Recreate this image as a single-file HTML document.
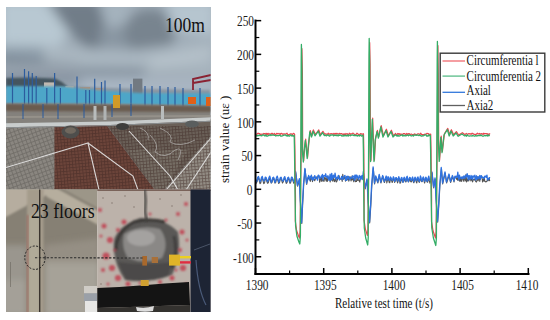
<!DOCTYPE html>
<html><head><meta charset="utf-8"><style>
html,body{margin:0;padding:0;background:#fff;width:550px;height:320px;overflow:hidden}
svg{display:block}
text{font-family:"Liberation Serif",serif}
</style></head><body>
<svg width="550" height="320" viewBox="0 0 550 320">
<rect width="550" height="320" fill="#fff"/>
<defs>
<filter id="b1" x="-20%" y="-20%" width="140%" height="140%"><feGaussianBlur stdDeviation="1"/></filter>
<filter id="b3" x="-30%" y="-30%" width="160%" height="160%"><feGaussianBlur stdDeviation="3"/></filter>
<filter id="b6" x="-50%" y="-50%" width="200%" height="200%"><feGaussianBlur stdDeviation="6"/></filter>
<filter id="b10" x="-50%" y="-50%" width="200%" height="200%"><feGaussianBlur stdDeviation="10"/></filter>
<clipPath id="cTop"><rect x="6" y="7" width="204.6" height="182.5"/></clipPath>
<clipPath id="cBL"><rect x="6" y="189.5" width="91.3" height="122.5"/></clipPath>
<clipPath id="cBR"><rect x="97.3" y="189.5" width="113.3" height="122.5"/></clipPath>
<pattern id="meshR" width="3.2" height="3.2" patternUnits="userSpaceOnUse" patternTransform="rotate(-5)">
  <path d="M0 0.5H3.2M0.5 0V3.2" stroke="#3a2420" stroke-width="0.8" opacity="0.5"/>
</pattern>
<pattern id="meshG" width="4" height="4" patternUnits="userSpaceOnUse" patternTransform="rotate(-20)">
  <path d="M0 0.5H4M0.5 0V4" stroke="#55524c" stroke-width="0.8" opacity="0.5"/>
</pattern>
</defs>

<!-- ============ TOP PHOTO ============ -->
<g clip-path="url(#cTop)">
  <rect x="6" y="7" width="205" height="183" fill="#9aa8b3"/>
  <!-- sky clouds -->
  <rect x="6" y="7" width="205" height="90" fill="#9eabb6"/>
  <g filter="url(#b6)">
    <path d="M0 0 L52 0 L70 30 L60 46 L0 46Z" fill="#b8c8d2"/>
    <path d="M46 0 L98 0 L108 28 L104 50 L86 48 L66 28Z" fill="#717d88"/>
    <path d="M98 0 L130 0 L126 28 L108 34Z" fill="#a4b2bd"/>
    <path d="M100 30 L135 22 L140 52 L100 52Z" fill="#8996a2"/>
    <ellipse cx="150" cy="32" rx="26" ry="23" fill="#78848f"/>
    <path d="M166 0 L215 0 L215 36 L172 30Z" fill="#b6c5cf"/>
    <path d="M40 46 Q90 48 136 50 L136 68 Q90 68 40 66Z" fill="#a9b6c0"/>
    <path d="M0 46 L44 48 L44 66 L0 66Z" fill="#8c9ba8"/>
    <path d="M136 50 L215 40 L215 70 L136 70Z" fill="#aab7c1"/>
    <path d="M150 60 Q180 56 210 50 L212 55 Q180 63 152 66Z" fill="#bcc7cf"/>
    <path d="M0 58 Q40 62 80 66 L80 69 Q40 66 0 64Z" fill="#6e7a88"/>
    <path d="M0 65 Q40 67 80 70 L80 74 Q40 73 0 72Z" fill="#aab6c0"/>
    <path d="M0 72 L80 74 L80 82 L0 82Z" fill="#7a8696"/>
    <path d="M80 68 L145 68 L145 76 L80 76Z" fill="#7e8b98"/>
    <path d="M80 76 L215 78 L215 96 L80 96Z" fill="#a9b6c3"/>
    <path d="M145 70 L215 70 L215 78 L145 78Z" fill="#a2aeb8"/>
  </g>
  <!-- hills -->
  <path d="M6 78 L30 77.5 L55 78.5 L62 82 L68 87 L6 88Z" fill="#44555e" filter="url(#b1)"/>
  <path d="M70 86 L110 88 L150 89 L210 90 L210 96 L70 96Z" fill="#8a96a2" filter="url(#b1)"/>
  <!-- buildings -->
  <rect x="44" y="82.4" width="10" height="7.4" fill="#c0b8b0"/>
  <rect x="65.4" y="86" width="8.3" height="4.7" fill="#b0a8a0"/>
  <rect x="80" y="87" width="10" height="5" fill="#a89080"/>
  <rect x="95" y="88" width="8" height="5" fill="#a89080"/>
  <rect x="133" y="78.6" width="9.4" height="17" fill="#727a82"/>
  <!-- fence -->
  <path d="M6 86 L62 86.5 L100 90.5 L140 93 L211 93.5 L211 106 L110 104.5 L6 103.8Z" fill="#4ea6c8" filter="url(#b1)"/>
  <g stroke="#2c5c9e" stroke-width="1.2"><line x1="12.5" y1="73" x2="12.5" y2="106"/><line x1="24.5" y1="69" x2="24.5" y2="110"/><line x1="28.6" y1="71.3" x2="28.6" y2="106"/><line x1="32.3" y1="73" x2="32.3" y2="106"/><line x1="36.2" y1="76" x2="36.2" y2="106"/><line x1="54.6" y1="73" x2="54.6" y2="106"/><line x1="77" y1="76.5" x2="77" y2="106"/><line x1="94.7" y1="78.7" x2="94.7" y2="106"/><line x1="101.5" y1="82" x2="101.5" y2="106"/><line x1="105" y1="80.5" x2="105" y2="106"/><line x1="46.8" y1="88" x2="46.8" y2="110"/><line x1="60.4" y1="88" x2="60.4" y2="112"/><line x1="85.8" y1="90" x2="85.8" y2="110"/><line x1="89.5" y1="90" x2="89.5" y2="110"/><line x1="120" y1="84" x2="120" y2="107"/><line x1="131" y1="84" x2="131" y2="106"/><line x1="145" y1="86" x2="145" y2="107"/><line x1="152" y1="86" x2="152" y2="107"/><line x1="160" y1="86" x2="160" y2="107"/><line x1="168" y1="87" x2="168" y2="107"/><line x1="175" y1="87" x2="175" y2="107"/><line x1="183" y1="88" x2="183" y2="107"/><line x1="200" y1="88" x2="200" y2="107"/></g>
  <!-- deck band -->
  <path d="M6 103.5 L110 104 L211 106 L211 121 L110 123 L6 125Z" fill="#84817c" filter="url(#b1)"/>
  <path d="M6 104 L211 106 L211 112 L6 111Z" fill="#6a5c50" filter="url(#b1)"/>
  <path d="M6 116 L211 115 L211 117 L6 118Z" fill="#9c9890" opacity="0.7"/>
  <g stroke="#2a5a9c" stroke-width="1.2" opacity="0.85">
    <line x1="23" y1="104" x2="23" y2="119"/><line x1="43" y1="104" x2="43" y2="118"/><line x1="58" y1="104" x2="58" y2="119"/>
    <line x1="84" y1="104" x2="84" y2="118"/><line x1="112" y1="104" x2="112" y2="117"/><line x1="131" y1="104" x2="131" y2="116"/>
  </g>
  <rect x="93.5" y="106" width="3" height="14" fill="#b8bcbc"/>
  <rect x="103.5" y="106" width="3" height="14" fill="#b0b4b4"/>
  <rect x="161" y="106" width="3" height="13" fill="#b8bcbc"/>
  <rect x="113" y="95" width="7" height="13" fill="#d09a28"/>
  <rect x="188" y="97" width="8" height="7" fill="#e06018"/>
  <rect x="206" y="97" width="5" height="9" fill="#e06018"/>
  <path d="M193 90 L193 79 L211 75 M193 83 L211 80" fill="none" stroke="#8a2232" stroke-width="1.8"/>
  <!-- lower meshes -->
  <path d="M6 125 L55 124 L55 190 L6 190Z" fill="#8a8680"/>
  <rect x="6" y="125" width="49" height="65" fill="url(#meshG)"/>
  <path d="M54.5 124 L105 123 L155 190 L54.5 190Z" fill="#6c443a"/>
  <path d="M105 123 L211 119 L211 136 L164 190 L155 190Z" fill="#6a6058"/>
  <path d="M128 150 L188 150 L164 190 L155 190Z" fill="#787068" opacity="0.8"/>
  <path d="M211 136 L211 190 L164 190Z" fill="#928c84"/>
  <rect x="54.5" y="126" width="157" height="64" fill="url(#meshR)"/>
  <!-- pipe -->
  <path d="M6 123.3 L110 121.6 L211 117.2 L211 120.8 L110 125 L6 127.2Z" fill="#c8cccc"/>
  <path d="M6 127.2 L110 125 L211 120.8 L211 121.8 L110 126 L6 128.2Z" fill="#8a8e90"/>
  <!-- tires -->
  <ellipse cx="70.5" cy="132" rx="9" ry="6.5" fill="#4e4e4c"/>
  <ellipse cx="70.5" cy="130.5" rx="5.5" ry="3.2" fill="#70685e"/>
  <ellipse cx="122.5" cy="126.5" rx="6.5" ry="3.5" fill="#3e3e3c"/>
  <ellipse cx="192" cy="124" rx="7" ry="3.5" fill="#5a5e5e"/>
  <!-- white lines -->
  <g stroke="#e6e6e6" stroke-width="1.1" fill="none" opacity="0.9">
    <path d="M6 167.5 L88 143 L99 190"/>
    <path d="M88 143 L133 176 L138 190"/>
    <path d="M129 131 L170 176 L178 190"/>
    <path d="M211 138 L166 190"/>
    <path d="M211 152 L186 190"/>
  </g>
  <g stroke="#c8c8c8" stroke-width="0.8" fill="none" opacity="0.7">
    <path d="M150 135 Q160 145 155 152 Q165 160 175 150 Q185 145 178 160"/>
    <path d="M160 128 Q175 135 170 142 Q180 148 195 140"/>
    <path d="M140 128 Q150 132 148 140"/>
  </g>
  <!-- 100m text -->
  <text x="165" y="32.2" font-family="'Liberation Serif',serif" font-size="20" fill="#111" transform="translate(165 0) scale(0.876 1) translate(-165 0)">100m</text>
</g>

<!-- ============ BOTTOM LEFT PHOTO ============ -->
<g clip-path="url(#cBL)">
  <rect x="6" y="189" width="92" height="124" fill="#868074"/>
  <g filter="url(#b1)">
    <path d="M0 185 L52 185 L52 192 L0 220Z" fill="#b6ad9f"/>
    <path d="M56 185 L105 185 L105 212 Z" fill="#9c9688"/>
    <path d="M44 191 L56 188 L100 212 L100 226 L47 197Z" fill="#b6ae9e"/>
  </g>
  <g filter="url(#b3)">
    <path d="M0 245 L27 245 L27 316 L0 316Z" fill="#9a968e"/>
    <path d="M44 245 L100 238 L100 262 L44 262Z" fill="#958f84"/>
    <path d="M44 262 L100 262 L100 316 L44 316Z" fill="#a6a298"/>
    <path d="M0 280 L27 280 L27 316 L0 316Z" fill="#a4a098"/>
  </g>
  <rect x="10" y="262" width="1" height="25" fill="#6a665e" opacity="0.6"/>
  <rect x="84" y="286" width="14" height="7.5" fill="#cfccc6"/>
  <rect x="84" y="293.3" width="14" height="8" fill="#9aa0a8"/>
  <rect x="85" y="301" width="12" height="12" fill="#e6e6e4"/>
  <!-- column -->
  <path d="M27 189 L43.5 189 L43.5 313 L27 313Z" fill="#a59c8c" filter="url(#b1)"/>
  <path d="M29 217 L39 210 L39 313 L29 313Z" fill="#b0aa98" filter="url(#b1)"/>
  <rect x="26.8" y="215" width="1.8" height="98" fill="#9a6a60" filter="url(#b1)"/>
  <rect x="39" y="189" width="1.4" height="124" fill="#3a342e"/>
  <!-- dashed circle and line -->
  <ellipse cx="35" cy="257.7" rx="10.2" ry="11.7" fill="none" stroke="#222" stroke-width="1" stroke-dasharray="2 1.5"/>
  <text x="31" y="218.4" font-family="'Liberation Serif',serif" font-size="20" fill="#111" transform="translate(31 0) scale(0.888 1) translate(-31 0)">23 floors</text>
</g>

<!-- ============ BOTTOM RIGHT PHOTO ============ -->
<g clip-path="url(#cBR)">
  <rect x="97" y="189" width="114" height="124" fill="#bcb2aa"/>
  <rect x="97" y="189" width="114" height="1.8" fill="#6a5048"/>
  <g filter="url(#b1)">
    <path d="M114 240 Q118 226 140 218 Q165 218 178 232 Q182 255 172 275 Q150 283 125 280 Q112 262 114 240Z" fill="#5a5856"/>
    <path d="M124 234 Q140 224 160 229 Q170 242 162 258 Q145 265 128 258 Q121 248 124 234Z" fill="#8a8886"/>
    <ellipse cx="141" cy="238" rx="14" ry="8" fill="#a4a2a0"/>
    <path d="M118 262 Q145 266 172 262 L168 276 Q150 283 126 280Z" fill="#4c4a48"/>
    <path d="M116 250 Q116 232 134 222 Q150 218 165 222" fill="none" stroke="#3a3836" stroke-width="3"/>
    <path d="M174 236 Q178 252 172 268" fill="none" stroke="#403e3c" stroke-width="3"/>
  </g>
  <g fill="#c03848" opacity="0.8" filter="url(#b1)">
    <circle cx="104" cy="226" r="2.5"/><circle cx="110" cy="240" r="3"/><circle cx="106" cy="256" r="3.5"/><circle cx="112" cy="268" r="3"/>
    <circle cx="118" cy="278" r="3"/><circle cx="124" cy="222" r="2.5"/><circle cx="118" cy="230" r="2"/><circle cx="128" cy="284" r="2.5"/>
    <circle cx="178" cy="214" r="2"/><circle cx="182" cy="232" r="2.5"/><circle cx="180" cy="250" r="2"/><circle cx="183" cy="268" r="3"/>
    <circle cx="172" cy="278" r="2.5"/><circle cx="160" cy="282" r="2"/><circle cx="100" cy="210" r="2"/><circle cx="186" cy="204" r="2"/>
    <circle cx="150" cy="214" r="1.5"/><circle cx="166" cy="220" r="1.5"/>
    <circle cx="101" cy="236" r="1.5"/><circle cx="103" cy="270" r="2"/><circle cx="108" cy="284" r="1.5"/><circle cx="115" cy="250" r="1.5"/>
    <circle cx="187" cy="240" r="1.5"/><circle cx="176" cy="270" r="1.5"/><circle cx="186" cy="284" r="1.5"/><circle cx="140" cy="283" r="1.5"/>
  </g>
  <g fill="#6a5a50" opacity="0.6">
    <circle cx="103" cy="198" r="0.8"/><circle cx="112" cy="203" r="0.8"/><circle cx="125" cy="196" r="0.8"/><circle cx="134" cy="207" r="0.8"/>
    <circle cx="160" cy="199" r="0.8"/><circle cx="172" cy="206" r="0.8"/><circle cx="181" cy="195" r="0.8"/><circle cx="101" cy="284" r="0.8"/>
  </g>
  <path d="M144.5 189 L145.5 200 L145 212 L147 222" stroke="#45433f" stroke-width="2.4" fill="none" filter="url(#b1)"/>
  <rect x="190.5" y="189" width="21" height="124" fill="#1d2434"/>
  <path d="M194 250 L210 244" stroke="#4a5468" stroke-width="1"/>
  <path d="M196 260 Q198 290 206 305" stroke="#4a5a78" stroke-width="1.2" fill="none"/>
  <!-- strap -->
  <path d="M97 288 Q120 287 140 285.5 Q165 283 189 282 L190 305 Q160 306 130 307 L97 308Z" fill="#141414"/>
  <path d="M97 308 L130 307 L190 305 L190 313 L97 313Z" fill="#34322f"/>
  <path d="M136 307 Q145 309 154 306 L153 311 Q145 312.5 137 311Z" fill="#dcdcdc"/>
  <!-- sensors and wires -->
  <rect x="142.3" y="256" width="4.7" height="9.6" fill="#a8682c"/>
  <rect x="151.7" y="257" width="6.3" height="6" fill="#a8703a"/>
  <rect x="169" y="254.6" width="11" height="11" fill="#e0b428"/>
  <rect x="180" y="256" width="11" height="2.4" fill="#ecd020"/>
  <rect x="180" y="261.2" width="11" height="2.4" fill="#e02c40"/>
  <rect x="140.7" y="280" width="8" height="6" fill="#d0a030"/>
</g>
<line x1="35" y1="257.7" x2="144" y2="258" stroke="#2a2a2a" stroke-width="1.1" stroke-dasharray="2.3 1.6"/>

<g><polyline points="255.50,180.51 256.25,183.13 257.00,181.80 257.75,179.04 258.50,177.67 259.25,180.66 260.00,183.73 260.75,182.80 261.50,178.76 262.25,177.96 263.00,180.55 263.75,183.74 264.50,182.86 265.25,179.00 266.00,178.19 266.75,181.17 267.50,183.28 268.25,182.77 269.00,179.78 269.75,177.88 270.50,180.83 271.25,183.08 272.00,182.35 272.75,179.46 273.50,177.70 274.25,180.87 275.00,183.12 275.75,182.31 276.50,179.17 277.25,179.19 278.00,180.75 278.75,183.51 279.50,182.66 280.25,179.02 281.00,177.61 281.75,180.68 282.50,182.96 283.25,181.74 284.00,179.48 284.75,177.92 285.50,180.44 286.25,183.43 287.00,182.59 287.75,179.03 288.50,178.37 289.25,180.99 290.00,183.42 290.75,182.31 291.50,179.33 292.25,178.56 293.00,180.80 293.75,183.30 294.50,182.25 295.40,180.00 295.70,172.20 297.60,186.30 299.60,179.70 300.40,201.00 301.80,223.50 302.60,206.00 303.70,185.00 305.10,169.40 306.70,184.40 307.70,179.00 308.10,179.03 308.65,176.83 309.20,178.57 309.75,177.81 310.30,181.45 310.85,178.15 311.40,179.23 311.95,178.53 312.50,181.78 313.05,176.81 313.60,178.85 314.15,179.34 314.70,180.80 315.25,179.20 315.80,177.89 316.35,176.97 316.90,177.48 317.45,176.97 318.00,176.76 318.55,176.77 319.10,176.62 319.65,182.12 320.20,177.91 320.75,177.38 321.30,181.44 321.85,176.65 322.40,180.19 322.95,181.09 323.50,179.69 324.05,181.35 324.60,177.65 325.15,177.49 325.70,179.46 326.25,181.18 326.80,177.67 327.35,181.50 327.90,178.77 328.45,177.69 329.00,176.88 329.55,177.92 330.10,182.03 330.65,179.72 331.20,179.95 331.75,176.53 332.30,180.44 332.85,181.22 333.40,176.97 333.95,179.43 334.50,181.69 335.05,180.09 335.60,178.46 336.15,181.87 336.70,181.65 337.25,180.25 337.80,178.18 338.35,176.92 338.90,175.48 339.45,177.18 340.00,178.46 340.55,179.27 341.10,178.58 341.65,178.32 342.20,181.52 342.75,174.32 343.30,179.48 343.85,177.32 344.40,178.34 344.95,176.87 345.50,181.19 346.05,179.29 346.60,176.58 347.15,178.73 347.70,179.86 348.25,176.42 348.80,181.12 349.35,178.62 349.90,176.66 350.45,177.47 351.00,180.96 351.55,179.25 352.10,175.82 352.65,179.88 353.20,177.94 353.75,181.82 354.30,178.83 354.85,177.58 355.40,181.74 355.95,181.21 356.50,181.46 357.05,177.86 357.60,180.42 358.15,179.97 358.70,179.70 359.25,181.07 359.80,182.09 360.35,177.88 360.90,177.32 361.45,176.86 362.00,178.32 362.55,177.31 363.10,180.00 363.50,172.70 365.20,189.00 367.20,180.00 368.20,201.00 369.70,223.00 370.80,206.00 371.80,186.00 373.30,168.00 374.60,184.00 375.90,177.00 377.90,183.00 379.40,175.50 380.90,183.00 382.90,176.50 384.40,182.50 386.40,177.00 386.80,182.87 387.40,180.66 388.00,178.02 388.60,179.91 389.20,182.42 389.80,182.72 390.40,179.29 391.00,178.75 391.60,180.57 392.20,182.55 392.80,180.80 393.40,178.27 394.00,179.49 394.60,182.38 395.20,181.33 395.80,179.15 396.40,178.08 397.00,180.98 397.60,182.90 398.20,180.82 398.80,179.04 399.40,179.22 400.00,183.31 400.60,182.62 401.20,179.26 401.80,179.54 402.40,181.21 403.00,182.19 403.60,181.23 404.20,178.45 404.80,179.82 405.40,181.72 406.00,181.91 406.60,178.93 407.20,178.05 407.80,180.50 408.40,181.94 409.00,181.20 409.60,178.10 410.20,179.73 410.80,181.78 411.40,181.89 412.00,179.56 412.60,179.60 413.20,181.42 413.80,182.69 414.40,181.24 415.00,178.84 415.60,179.15 416.20,181.73 416.80,182.95 417.40,179.58 418.00,178.88 418.60,180.97 419.20,182.39 419.80,181.20 420.40,178.45 421.00,179.27 421.60,181.68 422.20,181.70 422.80,179.04 423.40,178.05 424.00,180.75 424.60,183.03 425.20,180.51 425.80,178.77 426.40,179.71 427.00,181.56 427.60,182.27 428.20,179.65 428.80,177.69 429.40,181.37 430.00,183.24 430.60,180.87 431.20,179.06 431.60,180.00 432.10,172.90 433.70,187.90 435.20,179.00 436.30,201.00 437.70,222.30 438.80,206.00 439.90,186.00 441.45,168.50 442.70,184.00 445.20,173.00 446.60,183.00 449.20,175.00 450.60,182.50 452.60,176.50 454.10,182.00 454.50,177.94 455.05,176.85 455.60,176.91 456.15,177.92 456.70,179.42 457.25,177.31 457.80,180.39 458.35,179.44 458.90,176.74 459.45,181.08 460.00,177.18 460.55,181.27 461.10,177.23 461.65,181.49 462.20,177.99 462.75,177.13 463.30,179.95 463.85,181.42 464.40,178.09 464.95,177.28 465.50,180.89 466.05,174.26 466.60,182.01 467.15,178.91 467.70,180.86 468.25,179.36 468.80,180.97 469.35,179.01 469.90,178.70 470.45,179.32 471.00,180.96 471.55,178.58 472.10,179.37 472.65,181.85 473.20,179.65 473.75,179.62 474.30,179.94 474.85,178.82 475.40,180.88 475.95,181.66 476.50,181.95 477.05,179.79 477.60,176.70 478.15,180.81 478.70,177.14 479.25,178.17 479.80,181.46 480.35,176.76 480.90,177.78 481.45,177.30 482.00,177.08 482.55,182.03 483.10,179.48 483.65,180.99 484.20,177.03 484.75,181.43 485.30,181.43 485.85,182.01 486.40,181.44 486.95,181.17 487.50,179.49 488.05,180.65 488.60,179.83 489.15,177.63 489.70,181.10" fill="none" stroke="#555" stroke-width="1.1" stroke-linejoin="round"/><polyline points="255.50,179.35 256.25,181.81 257.00,180.76 257.75,177.46 258.50,176.51 259.25,179.10 260.00,181.43 260.75,180.72 261.50,177.49 262.25,176.35 263.00,179.29 263.75,181.00 264.50,180.42 265.25,177.25 266.00,177.38 266.75,179.54 267.50,181.66 268.25,180.61 269.00,177.52 269.75,176.10 270.50,178.97 271.25,182.52 272.00,181.12 272.75,177.80 273.50,177.14 274.25,178.96 275.00,182.47 275.75,180.56 276.50,177.61 277.25,176.07 278.00,178.87 278.75,182.32 279.50,180.72 280.25,177.83 281.00,177.13 281.75,179.30 282.50,181.04 283.25,180.96 284.00,177.86 284.75,176.63 285.50,179.45 286.25,181.89 287.00,181.00 287.75,177.76 288.50,177.22 289.25,179.27 290.00,182.10 290.75,180.44 291.50,177.14 292.25,177.46 293.00,179.19 293.75,181.70 294.50,180.39 295.20,179.00 295.50,171.20 297.40,185.30 299.40,178.70 300.20,200.00 301.60,222.50 302.40,205.00 303.50,184.00 304.90,168.40 306.50,183.40 307.50,178.00 308.10,177.35 308.65,175.39 309.20,180.04 309.75,179.18 310.30,176.41 310.85,177.94 311.40,175.16 311.95,179.69 312.50,179.94 313.05,177.39 313.60,179.76 314.15,177.99 314.70,175.59 315.25,176.86 315.80,178.61 316.35,178.27 316.90,177.27 317.45,180.07 318.00,175.53 318.55,175.14 319.10,175.79 319.65,178.67 320.20,178.02 320.75,177.77 321.30,175.93 321.85,177.12 322.40,174.30 322.95,179.89 323.50,176.27 324.05,175.36 324.60,175.98 325.15,176.42 325.70,173.78 326.25,176.73 326.80,176.65 327.35,178.08 327.90,175.55 328.45,177.85 329.00,180.42 329.55,178.92 330.10,174.10 330.65,180.47 331.20,176.78 331.75,173.42 332.30,179.56 332.85,177.51 333.40,175.11 333.95,177.48 334.50,177.18 335.05,173.18 335.60,176.38 336.15,179.58 336.70,177.55 337.25,177.16 337.80,178.54 338.35,175.48 338.90,177.75 339.45,179.99 340.00,178.51 340.55,178.74 341.10,178.91 341.65,176.37 342.20,177.16 342.75,179.62 343.30,177.76 343.85,176.75 344.40,175.81 344.95,175.45 345.50,180.28 346.05,177.59 346.60,180.35 347.15,176.15 347.70,178.59 348.25,176.46 348.80,176.80 349.35,179.73 349.90,178.81 350.45,178.35 351.00,177.12 351.55,177.62 352.10,178.46 352.65,175.98 353.20,176.53 353.75,176.35 354.30,180.23 354.85,175.11 355.40,175.22 355.95,178.92 356.50,175.04 357.05,175.53 357.60,177.54 358.15,177.07 358.70,179.43 359.25,175.50 359.80,177.26 360.35,176.26 360.90,179.72 361.45,176.49 362.00,175.45 362.55,179.18 362.90,179.00 363.30,171.70 365.00,188.00 367.00,179.00 368.00,200.00 369.50,222.00 370.60,205.00 371.60,185.00 373.10,167.00 374.40,183.00 375.70,176.00 377.70,182.00 379.20,174.50 380.70,182.00 382.70,175.50 384.20,181.50 386.20,176.00 386.80,180.26 387.40,179.42 388.00,176.68 388.60,177.64 389.20,180.32 389.80,180.49 390.40,177.02 391.00,177.63 391.60,179.26 392.20,180.39 392.80,179.16 393.40,176.77 394.00,177.86 394.60,181.36 395.20,180.68 395.80,177.62 396.40,177.93 397.00,178.94 397.60,180.99 398.20,178.95 398.80,176.56 399.40,178.61 400.00,181.56 400.60,180.53 401.20,177.95 401.80,177.34 402.40,179.57 403.00,182.34 403.60,178.82 404.20,177.23 404.80,178.19 405.40,180.61 406.00,181.14 406.60,177.16 407.20,176.30 407.80,179.85 408.40,181.67 409.00,179.08 409.60,177.43 410.20,177.65 410.80,179.82 411.40,180.59 412.00,178.37 412.60,177.01 413.20,179.69 413.80,181.84 414.40,178.93 415.00,177.15 415.60,178.07 416.20,180.71 416.80,180.40 417.40,177.57 418.00,176.88 418.60,179.66 419.20,181.64 419.80,179.53 420.40,176.01 421.00,177.59 421.60,181.06 422.20,181.19 422.80,177.78 423.40,176.95 424.00,179.06 424.60,181.32 425.20,179.22 425.80,177.19 426.40,178.13 427.00,181.48 427.60,180.21 428.20,177.84 428.80,176.05 429.40,180.03 430.00,180.33 430.60,178.93 431.20,176.15 431.40,179.00 431.90,171.90 433.50,186.90 435.00,178.00 436.10,200.00 437.50,221.30 438.60,205.00 439.70,185.00 441.25,167.50 442.50,183.00 445.00,172.00 446.40,182.00 449.00,174.00 450.40,181.50 452.40,175.50 453.90,181.00 454.50,178.82 455.05,176.22 455.60,177.79 456.15,176.22 456.70,176.88 457.25,177.06 457.80,172.05 458.35,177.32 458.90,179.93 459.45,175.12 460.00,178.33 460.55,177.80 461.10,177.09 461.65,178.56 462.20,176.94 462.75,178.56 463.30,177.88 463.85,175.81 464.40,177.55 464.95,178.29 465.50,175.49 466.05,175.92 466.60,176.83 467.15,173.74 467.70,175.85 468.25,179.75 468.80,175.63 469.35,175.65 469.90,179.26 470.45,178.92 471.00,175.48 471.55,178.36 472.10,176.14 472.65,179.58 473.20,175.96 473.75,176.78 474.30,177.00 474.85,175.19 475.40,179.99 475.95,178.25 476.50,175.78 477.05,179.35 477.60,177.97 478.15,176.91 478.70,178.67 479.25,176.77 479.80,175.51 480.35,179.44 480.90,175.84 481.45,175.63 482.00,177.48 482.55,177.10 483.10,177.38 483.65,178.52 484.20,178.12 484.75,176.11 485.30,176.71 485.85,176.04 486.40,177.38 486.95,175.18 487.50,179.86 488.05,178.74 488.60,178.64 489.15,179.12 489.70,177.10" fill="none" stroke="#2f72e0" stroke-width="1.3" stroke-linejoin="round"/><polyline points="255.50,133.96 256.20,134.25 256.90,134.27 257.60,133.43 258.30,133.22 259.00,133.80 259.70,133.64 260.40,134.50 261.10,134.30 261.80,134.16 262.50,134.09 263.20,134.26 263.90,133.43 264.60,133.90 265.30,133.46 266.00,134.65 266.70,133.29 267.40,134.51 268.10,133.32 268.80,134.30 269.50,133.74 270.20,133.85 270.90,134.55 271.60,133.23 272.30,133.30 273.00,134.66 273.70,134.01 274.40,133.35 275.10,134.78 275.80,134.71 276.50,133.38 277.20,133.88 277.90,133.42 278.60,133.70 279.30,134.19 280.00,133.46 280.70,134.31 281.40,133.28 282.10,133.47 282.80,134.51 283.50,133.84 284.20,133.87 284.90,134.15 285.60,133.96 286.30,133.82 287.00,133.25 287.70,134.36 288.40,134.75 289.10,134.76 289.80,134.26 290.50,133.77 291.20,133.78 291.90,134.30 292.60,134.28 293.30,133.38 294.00,133.58 294.60,134.20 294.90,148.70 295.50,198.70 295.30,221.04 296.60,230.49 298.60,236.16 299.50,238.05 300.10,230.49 301.20,148.70 301.70,64.00 301.90,48.50 302.40,74.00 302.70,148.70 303.70,160.70 304.60,148.70 305.70,139.20 307.60,157.20 308.80,143.70 310.20,130.50 311.90,135.70 313.40,129.90 315.40,134.50 318.80,129.90 320.40,134.90 322.90,131.30 324.80,134.30 325.50,133.78 326.20,134.02 326.90,134.50 327.60,134.00 328.30,133.25 329.00,134.52 329.70,133.89 330.40,134.03 331.10,133.56 331.80,133.88 332.50,133.82 333.20,134.44 333.90,133.36 334.60,134.08 335.30,133.48 336.00,134.31 336.70,133.26 337.40,133.64 338.10,133.75 338.80,134.22 339.50,133.28 340.20,133.93 340.90,133.53 341.60,133.65 342.30,133.96 343.00,134.73 343.70,133.97 344.40,134.73 345.10,133.47 345.80,134.68 346.50,133.78 347.20,133.50 347.90,134.40 348.60,134.66 349.30,133.21 350.00,133.63 350.70,134.43 351.40,133.75 352.10,133.59 352.80,133.21 353.50,133.26 354.20,134.19 354.90,134.77 355.60,134.80 356.30,134.01 357.00,133.24 357.70,133.72 358.40,134.46 359.10,134.53 359.80,134.22 360.50,133.57 361.20,134.04 361.90,133.96 362.60,134.20 363.30,133.62 363.50,134.20 363.80,148.70 364.20,198.70 364.00,219.97 365.40,229.10 367.40,235.50 367.90,229.10 369.00,148.70 369.50,59.00 369.70,42.50 370.10,64.00 370.40,138.70 371.00,160.20 371.80,138.70 372.70,118.20 373.40,138.70 374.40,160.20 375.60,138.70 377.40,130.40 378.80,136.70 381.20,125.70 383.40,135.70 386.40,129.20 388.40,135.70 391.40,130.20 393.40,135.70 395.60,133.50 396.30,134.71 397.00,134.63 397.70,133.46 398.40,133.67 399.10,134.60 399.80,133.65 400.50,134.71 401.20,134.02 401.90,134.31 402.60,134.33 403.30,133.54 404.00,133.66 404.70,133.61 405.40,134.29 406.10,134.31 406.80,133.41 407.50,134.62 408.20,133.87 408.90,133.59 409.60,133.90 410.30,134.77 411.00,134.10 411.70,134.20 412.40,134.67 413.10,134.74 413.80,134.42 414.50,133.87 415.20,134.14 415.90,134.64 416.60,134.46 417.30,134.13 418.00,133.76 418.70,133.79 419.40,134.38 420.10,134.10 420.80,133.23 421.50,134.34 422.20,134.65 422.90,134.48 423.60,134.64 424.30,134.66 425.00,134.06 425.70,134.46 426.40,133.81 427.10,133.36 427.80,133.77 428.50,133.70 429.20,134.69 429.90,134.30 430.60,134.07 430.70,134.20 431.00,148.70 431.60,198.70 431.50,221.66 433.10,230.98 435.50,237.97 436.10,230.98 437.20,148.70 437.70,64.00 437.90,45.50 438.30,74.00 438.70,138.70 439.60,160.10 441.20,136.10 442.40,151.40 444.40,133.70 447.80,128.40 449.60,134.70 451.40,129.70 453.60,134.70 456.40,131.70 458.60,135.00 462.40,132.70 464.80,134.50 465.50,134.20 466.20,133.40 466.90,134.05 467.60,134.32 468.30,133.83 469.00,133.59 469.70,133.85 470.40,133.72 471.10,134.30 471.80,133.43 472.50,133.34 473.20,133.70 473.90,134.31 474.60,134.42 475.30,134.26 476.00,134.70 476.70,133.78 477.40,133.25 478.10,133.98 478.80,133.91 479.50,133.49 480.20,134.27 480.90,133.75 481.60,133.58 482.30,133.72 483.00,134.71 483.70,133.21 484.40,133.78 485.10,133.65 485.80,133.52 486.50,133.89 487.20,133.55 487.90,134.67 488.60,134.00 489.30,134.32 490.00,133.46" fill="none" stroke="#eb4650" stroke-width="1.2" stroke-linejoin="round"/><polyline points="255.50,135.43 256.20,135.58 256.90,136.09 257.60,135.45 258.30,135.51 259.00,135.62 259.70,135.06 260.40,135.52 261.10,135.68 261.80,135.91 262.50,134.93 263.20,135.22 263.90,134.93 264.60,135.93 265.30,135.77 266.00,134.86 266.70,136.18 267.40,136.15 268.10,135.72 268.80,135.66 269.50,135.02 270.20,134.82 270.90,135.54 271.60,134.88 272.30,135.07 273.00,135.14 273.70,134.84 274.40,135.45 275.10,135.42 275.80,135.98 276.50,135.53 277.20,135.70 277.90,135.50 278.60,135.73 279.30,135.44 280.00,135.19 280.70,136.20 281.40,136.19 282.10,135.98 282.80,135.79 283.50,135.24 284.20,135.12 284.90,135.20 285.60,134.90 286.30,135.87 287.00,135.36 287.70,135.99 288.40,135.34 289.10,136.14 289.80,135.99 290.50,134.80 291.20,135.09 291.90,136.07 292.60,135.46 293.30,136.17 294.00,135.36 294.20,135.50 294.50,150.00 295.10,200.00 295.60,226.00 296.90,236.00 298.90,242.00 299.80,244.00 300.40,236.00 300.80,150.00 301.20,60.00 301.40,44.50 301.90,70.00 302.30,150.00 303.30,162.00 304.20,150.00 305.30,140.50 307.20,158.50 308.40,145.00 309.80,131.80 311.50,137.00 313.00,131.20 315.00,135.80 318.40,131.20 320.00,136.20 322.50,132.60 324.40,135.60 325.10,134.90 325.80,135.68 326.50,135.89 327.20,135.18 327.90,134.92 328.60,135.27 329.30,136.15 330.00,135.86 330.70,134.97 331.40,135.14 332.10,134.94 332.80,134.88 333.50,135.92 334.20,135.05 334.90,135.58 335.60,135.43 336.30,135.07 337.00,135.82 337.70,134.98 338.40,135.70 339.10,134.96 339.80,135.39 340.50,135.10 341.20,135.18 341.90,136.16 342.60,135.92 343.30,135.23 344.00,136.04 344.70,135.09 345.40,135.35 346.10,136.00 346.80,135.70 347.50,134.94 348.20,136.19 348.90,135.10 349.60,135.16 350.30,135.88 351.00,135.26 351.70,135.21 352.40,134.90 353.10,134.93 353.80,135.62 354.50,135.14 355.20,135.64 355.90,135.32 356.60,135.43 357.30,136.14 358.00,135.48 358.70,135.60 359.40,136.01 360.10,135.06 360.80,135.02 361.50,136.07 362.20,135.94 362.90,135.15 363.10,135.50 363.40,150.00 363.80,200.00 364.30,228.00 365.70,238.00 367.70,245.00 368.20,238.00 368.60,150.00 369.00,55.00 369.20,38.50 369.60,60.00 370.00,140.00 370.60,161.50 371.40,140.00 372.30,119.50 373.00,140.00 374.00,161.50 375.20,140.00 377.00,131.70 378.40,138.00 380.80,127.00 383.00,137.00 386.00,130.50 388.00,137.00 391.00,131.50 393.00,137.00 395.20,134.80 395.90,135.07 396.60,135.84 397.30,136.12 398.00,135.08 398.70,136.13 399.40,136.04 400.10,135.64 400.80,135.39 401.50,134.95 402.20,134.85 402.90,136.15 403.60,135.13 404.30,135.79 405.00,135.16 405.70,135.95 406.40,135.64 407.10,135.21 407.80,135.05 408.50,135.81 409.20,134.90 409.90,135.12 410.60,135.58 411.30,135.99 412.00,135.66 412.70,135.19 413.40,136.08 414.10,135.09 414.80,134.82 415.50,135.18 416.20,135.42 416.90,134.88 417.60,135.05 418.30,135.32 419.00,135.60 419.70,134.98 420.40,135.31 421.10,136.05 421.80,136.17 422.50,135.72 423.20,135.77 423.90,135.62 424.60,135.00 425.30,134.85 426.00,134.83 426.70,136.07 427.40,135.78 428.10,136.15 428.80,134.83 429.50,135.69 430.20,135.48 430.30,135.50 430.60,150.00 431.20,200.00 431.80,228.00 433.40,238.00 435.80,245.50 436.40,238.00 436.80,150.00 437.20,60.00 437.40,41.50 437.80,70.00 438.30,140.00 439.20,161.40 440.80,137.40 442.00,152.70 444.00,135.00 447.40,129.70 449.20,136.00 451.00,131.00 453.20,136.00 456.00,133.00 458.20,136.30 462.00,134.00 464.40,135.80 465.10,135.82 465.80,135.25 466.50,136.20 467.20,134.91 467.90,135.56 468.60,135.83 469.30,136.06 470.00,135.83 470.70,135.79 471.40,135.91 472.10,136.08 472.80,135.29 473.50,135.76 474.20,136.06 474.90,136.02 475.60,135.38 476.30,135.91 477.00,136.01 477.70,135.60 478.40,135.67 479.10,135.34 479.80,135.62 480.50,135.65 481.20,134.91 481.90,135.70 482.60,136.19 483.30,136.03 484.00,135.82 484.70,135.34 485.40,135.83 486.10,135.61 486.80,135.42 487.50,135.97 488.20,134.92 488.90,135.85 489.60,134.84" fill="none" stroke="#34ad66" stroke-width="1.3" stroke-linejoin="round"/></g>
<g><line x1="255.5" y1="19.6" x2="255.5" y2="275" stroke="#000" stroke-width="2"/><line x1="254.5" y1="273.9" x2="529.5" y2="273.9" stroke="#000" stroke-width="2"/><line x1="255" y1="256.76" x2="261.2" y2="256.76" stroke="#000" stroke-width="1.5"/><line x1="255" y1="223.03" x2="261.2" y2="223.03" stroke="#000" stroke-width="1.5"/><line x1="255" y1="189.30" x2="261.2" y2="189.30" stroke="#000" stroke-width="1.5"/><line x1="255" y1="155.57" x2="261.2" y2="155.57" stroke="#000" stroke-width="1.5"/><line x1="255" y1="121.84" x2="261.2" y2="121.84" stroke="#000" stroke-width="1.5"/><line x1="255" y1="88.11" x2="261.2" y2="88.11" stroke="#000" stroke-width="1.5"/><line x1="255" y1="54.38" x2="261.2" y2="54.38" stroke="#000" stroke-width="1.5"/><line x1="255" y1="20.65" x2="261.2" y2="20.65" stroke="#000" stroke-width="1.5"/><line x1="255" y1="239.90" x2="259.3" y2="239.90" stroke="#000" stroke-width="1.2"/><line x1="255" y1="206.17" x2="259.3" y2="206.17" stroke="#000" stroke-width="1.2"/><line x1="255" y1="172.44" x2="259.3" y2="172.44" stroke="#000" stroke-width="1.2"/><line x1="255" y1="138.71" x2="259.3" y2="138.71" stroke="#000" stroke-width="1.2"/><line x1="255" y1="104.98" x2="259.3" y2="104.98" stroke="#000" stroke-width="1.2"/><line x1="255" y1="71.25" x2="259.3" y2="71.25" stroke="#000" stroke-width="1.2"/><line x1="255" y1="37.52" x2="259.3" y2="37.52" stroke="#000" stroke-width="1.2"/><line x1="255.50" y1="274" x2="255.50" y2="268" stroke="#000" stroke-width="1.5"/><line x1="323.70" y1="274" x2="323.70" y2="268" stroke="#000" stroke-width="1.5"/><line x1="391.90" y1="274" x2="391.90" y2="268" stroke="#000" stroke-width="1.5"/><line x1="460.10" y1="274" x2="460.10" y2="268" stroke="#000" stroke-width="1.5"/><line x1="528.30" y1="274" x2="528.30" y2="268" stroke="#000" stroke-width="1.5"/><line x1="289.60" y1="274" x2="289.60" y2="270.6" stroke="#000" stroke-width="1.2"/><line x1="357.80" y1="274" x2="357.80" y2="270.6" stroke="#000" stroke-width="1.2"/><line x1="426.00" y1="274" x2="426.00" y2="270.6" stroke="#000" stroke-width="1.2"/><line x1="494.20" y1="274" x2="494.20" y2="270.6" stroke="#000" stroke-width="1.2"/></g>
<g><rect x="440.2" y="53.2" width="104.6" height="58.8" fill="#fff" stroke="#3a3a3a" stroke-width="1.4"/><line x1="442.5" y1="61.0" x2="465" y2="61.0" stroke="#f06a70" stroke-width="1.3"/><text x="591.38" y="65.50" transform="scale(0.789,1)" font-size="13.9" fill="#111">Circumferentia l</text><line x1="442.5" y1="76.1" x2="465" y2="76.1" stroke="#58bc88" stroke-width="1.3"/><text x="591.38" y="81.30" transform="scale(0.789,1)" font-size="13.9" fill="#111">Circumferentia 2</text><line x1="442.5" y1="92.3" x2="465" y2="92.3" stroke="#3278dc" stroke-width="1.3"/><text x="591.38" y="95.20" transform="scale(0.789,1)" font-size="13.9" fill="#111">Axial</text><line x1="442.5" y1="105.5" x2="465" y2="105.5" stroke="#606060" stroke-width="1.3"/><text x="591.38" y="109.60" transform="scale(0.789,1)" font-size="13.9" fill="#111">Axia2</text></g>
<g><text x="303.95" y="262.56" transform="scale(0.835,1)" text-anchor="end" font-size="13.6" fill="#1a1a1a">-100</text><text x="302.40" y="228.83" transform="scale(0.835,1)" text-anchor="end" font-size="13.6" fill="#1a1a1a">-50</text><text x="302.40" y="195.10" transform="scale(0.835,1)" text-anchor="end" font-size="13.6" fill="#1a1a1a">0</text><text x="302.75" y="161.37" transform="scale(0.835,1)" text-anchor="end" font-size="13.6" fill="#1a1a1a">50</text><text x="304.19" y="127.64" transform="scale(0.835,1)" text-anchor="end" font-size="13.6" fill="#1a1a1a">100</text><text x="304.19" y="93.91" transform="scale(0.835,1)" text-anchor="end" font-size="13.6" fill="#1a1a1a">150</text><text x="304.19" y="60.18" transform="scale(0.835,1)" text-anchor="end" font-size="13.6" fill="#1a1a1a">200</text><text x="304.19" y="26.45" transform="scale(0.835,1)" text-anchor="end" font-size="13.6" fill="#1a1a1a">250</text><text x="308.02" y="289.6" transform="scale(0.835,1)" text-anchor="middle" font-size="13.6" fill="#1a1a1a">1390</text><text x="389.52" y="289.6" transform="scale(0.835,1)" text-anchor="middle" font-size="13.6" fill="#1a1a1a">1395</text><text x="471.86" y="289.6" transform="scale(0.835,1)" text-anchor="middle" font-size="13.6" fill="#1a1a1a">1400</text><text x="554.01" y="289.6" transform="scale(0.835,1)" text-anchor="middle" font-size="13.6" fill="#1a1a1a">1405</text><text x="631.14" y="289.6" transform="scale(0.835,1)" text-anchor="middle" font-size="13.6" fill="#1a1a1a">1410</text><text x="485.46" y="308" transform="scale(0.791,1)" text-anchor="middle" font-size="14" fill="#111">Relative test time (t/s)</text><text transform="translate(229.4,139.3) rotate(-90) scale(0.93,0.84)" text-anchor="middle" font-size="14" fill="#111">strain value (uε )</text></g>
</svg>
</body></html>
